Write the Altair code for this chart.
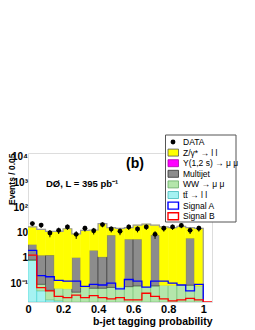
import altair as alt
import pandas as pd

# ---------------- data ----------------
bin_lo = [0.00, 0.05, 0.10, 0.15, 0.20, 0.25, 0.30, 0.35, 0.40, 0.45,
          0.50, 0.55, 0.60, 0.65, 0.70, 0.75, 0.80, 0.85, 0.90, 0.95]
bin_w = 0.05

data_y = [23, 20, 9.7, 12.4, 17, 8.6, 15, 12, 21, 14,
          11.4, 17, 14, 17, 8.6, 15, 17, 19.5, 12.4, 15]
data_err = [4.8, 4.5, 3.1, 3.5, 4.1, 2.9, 3.9, 3.5, 4.6, 3.7,
            3.4, 4.1, 3.7, 4.1, 2.9, 3.9, 4.1, 4.4, 3.5, 3.9]

z_ll = [13.6, 12.3, 10.1, 11.3, 14.3, 8.0, 12.3, 10.8, 21.9, 7.9,
        14.9, 10.4, 14.4, 21.9, 11.9, 16.9, 15.9, 17.9, 9.9, 14.9]
upsilon = [0, 0, 0, 0, 0, 0, 0, 0, 0, 0,
           0, 0, 0, 0, 0, 0, 0, 0, 0, 0]
multijet = [2.6, 1.2, 1.25, 0, 0, 1.0, 0, 1.95, 1.05, 8.0,
            0, 5.5, 5.5, 0, 8.0, 0, 0, 0, 6.0, 0]
ww = [0.03, 0.04, 0.03, 0.043, 0.055, 0.04, 0.065, 0.06, 0.06, 0.065,
      0.07, 0.07, 0.075, 0.07, 0.075, 0.08, 0.08, 0.08, 0.08, 0.075]
ttbar = [0.8, 0.05, 0.022, 0.02, 0.005, 0.004, 0.004, 0.003, 0.003, 0.003,
         0.003, 0.003, 0.003, 0.003, 0.003, 0.003, 0.003, 0.003, 0.003, 0.003]
signal_a = [2.0, 0.2, 0.18, 0.13, 0.12, 0.12, 0.075, 0.09, 0.085, 0.1,
            0.06, 0.14, 0.12, 0.07, 0.12, 0.12, 0.1, 0.085, 0.05, 0.09]
signal_b = [1.3, 0.067, 0.05, 0.03, 0.027, 0.034, 0.027, 0.032, 0.027, 0.024,
            0.027, 0.022, 0.022, 0.04, 0.03, 0.024, 0.02, 0.022, 0.025, 0.022]

YMIN, YMAX = 0.018, 14400
XMAX = 1.05

# ---------------- styling ----------------
FONT = "Liberation Sans"
C_Z = "#ffff00"
C_UPS = "#ff00ff"
C_MJ = "#8c8c8c"
C_WW = "#b4e6ab"
C_TT = "#a6f2f2"

comps = [("tt", ttbar, C_TT, "#33cccc"),
         ("ww", ww, C_WW, "#66b866"),
         ("mj", multijet, C_MJ, "#222222"),
         ("ups", upsilon, C_UPS, C_UPS),
         ("z", z_ll, C_Z, C_Z)]

# stacked rectangles
rows = []
cum = [0.0] * len(bin_lo)
for name, vals, _, _ in comps:
    for i, v in enumerate(vals):
        if v <= 0:
            continue
        b = cum[i]
        t = b + v
        cum[i] = t
        if t <= YMIN:
            continue
        rows.append(dict(comp=name, x=bin_lo[i], x2=bin_lo[i] + bin_w,
                         y=t, y2=max(b, YMIN)))
stack_df = pd.DataFrame(rows)

xscale = alt.Scale(domain=[0, XMAX], nice=False, zero=False)
yscale = alt.Scale(type="log", domain=[YMIN, YMAX], nice=False)

xaxis = alt.Axis(values=[0, 0.2, 0.4, 0.6, 0.8, 1], format="~g",
                 title="b-jet tagging probability", ticks=False, tickSize=0,
                 domain=False, grid=False, labelFlush=False, labelPadding=1,
                 labelFont=FONT, labelFontSize=11, labelFontWeight="bold",
                 labelColor="#000", titleFont=FONT, titleFontSize=10.5,
                 titleFontWeight="bold", titleColor="#000",
                 titleAnchor="end", titleAlign="right", titleX=184,
                 titleY=22, titleBaseline="alphabetic")
yaxis = alt.Axis(values=[0.1, 1, 10, 100, 1000, 10000],
                 labelExpr="datum.value == 10000 ? '10\u2074' : datum.value == 1000 ? '10\u00b3' : "
                           "datum.value == 100 ? '10\u00b2' : datum.value == 10 ? '10' : "
                           "datum.value == 1 ? '1' : '10\u207b\u00b9'",
                 title="Events / 0.05", ticks=False, tickSize=0, domain=False,
                 grid=False, labelFlush=False, labelPadding=0.5,
                 labelFont=FONT, labelFontSize=10, labelFontWeight="bold",
                 labelColor="#000", titleFont=FONT, titleFontSize=8.5,
                 titleFontWeight="bold", titleColor="#000",
                 titleAngle=270, titleAlign="right", titleBaseline="alphabetic",
                 titleX=-13.8, titleY=0)

names = [c[0] for c in comps]
fills = [c[2] for c in comps]
strokes = [c[3] for c in comps]

bars = alt.Chart(stack_df).mark_rect(clip=True, strokeWidth=0.5).encode(
    x=alt.X("x:Q", scale=xscale, axis=xaxis),
    x2="x2:Q",
    y=alt.Y("y:Q", scale=yscale, axis=yaxis),
    y2="y2:Q",
    fill=alt.Fill("comp:N", scale=alt.Scale(domain=names, range=fills), legend=None),
    stroke=alt.Stroke("comp:N", scale=alt.Scale(domain=names, range=strokes), legend=None),
)


def step_table(values, extra_end=None):
    pts = []
    k = 0
    for i, v in enumerate(values):
        pts.append(dict(i=k, x=bin_lo[i], y=max(v, YMIN)))
        k += 1
    pts.append(dict(i=k, x=bin_lo[-1] + bin_w, y=YMIN)); k += 1
    if extra_end is not None:
        pts.append(dict(i=k, x=extra_end, y=YMIN))
    return pd.DataFrame(pts)


def step_line(df, color, width):
    return alt.Chart(df).mark_line(interpolate="step-after", clip=True,
                                   color=color, strokeWidth=width).encode(
        x=alt.X("x:Q", scale=xscale, axis=xaxis),
        y=alt.Y("y:Q", scale=yscale, axis=yaxis),
        order="i:Q",
    )

total_line = step_line(step_table(cum), "#9a9a9a", 1.2)
line_a = step_line(step_table(signal_a), "#0000ff", 1.3)
line_b = step_line(step_table(signal_b, XMAX), "#ff0000", 1.3)

pts_df = pd.DataFrame(dict(x=[b + bin_w / 2 for b in bin_lo], y=data_y,
                           lo=[d - e for d, e in zip(data_y, data_err)],
                           hi=[d + e for d, e in zip(data_y, data_err)]))
err_rules = alt.Chart(pts_df).mark_rule(color="#000", strokeWidth=1, clip=True).encode(
    x=alt.X("x:Q", scale=xscale, axis=xaxis),
    y=alt.Y("lo:Q", scale=yscale, axis=yaxis),
    y2="hi:Q",
)
dots = alt.Chart(pts_df).mark_circle(color="#000", size=24, opacity=1, clip=True).encode(
    x=alt.X("x:Q", scale=xscale, axis=xaxis),
    y=alt.Y("y:Q", scale=yscale, axis=yaxis),
)

one = pd.DataFrame({"a": [0]})

# annotations
ann_b = alt.Chart(one).mark_text(text="(b)", font=FONT, fontSize=14, fontWeight="bold",
                                 align="center", baseline="middle", color="#000").encode(
    x=alt.value(107), y=alt.value(10.5))
ann_d0 = alt.Chart(one).mark_text(text="D\u00d8, L = 395 pb\u207b\u00b9", font=FONT, fontSize=9.5,
                                  fontWeight="bold", align="left", baseline="middle",
                                  color="#000").encode(
    x=alt.value(18), y=alt.value(31))

# legend (drawn as marks)
leg_layers = []
leg_layers.append(alt.Chart(one).mark_rect(fill="#ffffff", stroke="#555555", strokeWidth=1).encode(
    x=alt.value(137.5), x2=alt.value(208), y=alt.value(-18), y2=alt.value(69)))
leg_labels = ["DATA", "Z/\u03b3* \u2192 l l", "\u03a5(1,2 s) \u2192 \u03bc \u03bc", "Multijet",
              "WW \u2192 \u03bc \u03bc", "t\u0074\u0304 \u2192 l l", "Signal A", "Signal B"]
leg_fill = [None, C_Z, C_UPS, C_MJ, C_WW, C_TT, "#ffffff", "#ffffff"]
leg_stroke = [None, "#555555", "#aa00aa", "#333333", "#66aa66", "#44bbbb", "#0000ff", "#ff0000"]
leg_sw = [0, 0.8, 0.8, 0.8, 0.8, 0.8, 1.4, 1.4]
for k, lab in enumerate(leg_labels):
    yc = -11 + 10.6 * k
    if k == 0:
        leg_layers.append(alt.Chart(one).mark_circle(color="#000", size=24, opacity=1).encode(
            x=alt.value(145), y=alt.value(yc)))
    else:
        leg_layers.append(alt.Chart(one).mark_rect(fill=leg_fill[k], stroke=leg_stroke[k],
                                                   strokeWidth=leg_sw[k]).encode(
            x=alt.value(140), x2=alt.value(150.5), y=alt.value(yc - 3.5), y2=alt.value(yc + 3.5)))
    leg_layers.append(alt.Chart(one).mark_text(text=lab, font=FONT, fontSize=8.5, align="left",
                                               baseline="middle", color="#000").encode(
        x=alt.value(155), y=alt.value(yc)))

chart = alt.layer(bars, total_line, line_a, line_b, err_rules, dots, ann_b, ann_d0,
                  *leg_layers).properties(
    width=184, height=149,
    padding={"left": 20, "top": 145, "right": 35, "bottom": 28},
    autosize=alt.AutoSizeParams(type="none"),
).configure_view(stroke="#222222", strokeWidth=1).configure(background="#ffffff")

chart.save("out.html", embed_options={"renderer": "svg", "actions": False})
